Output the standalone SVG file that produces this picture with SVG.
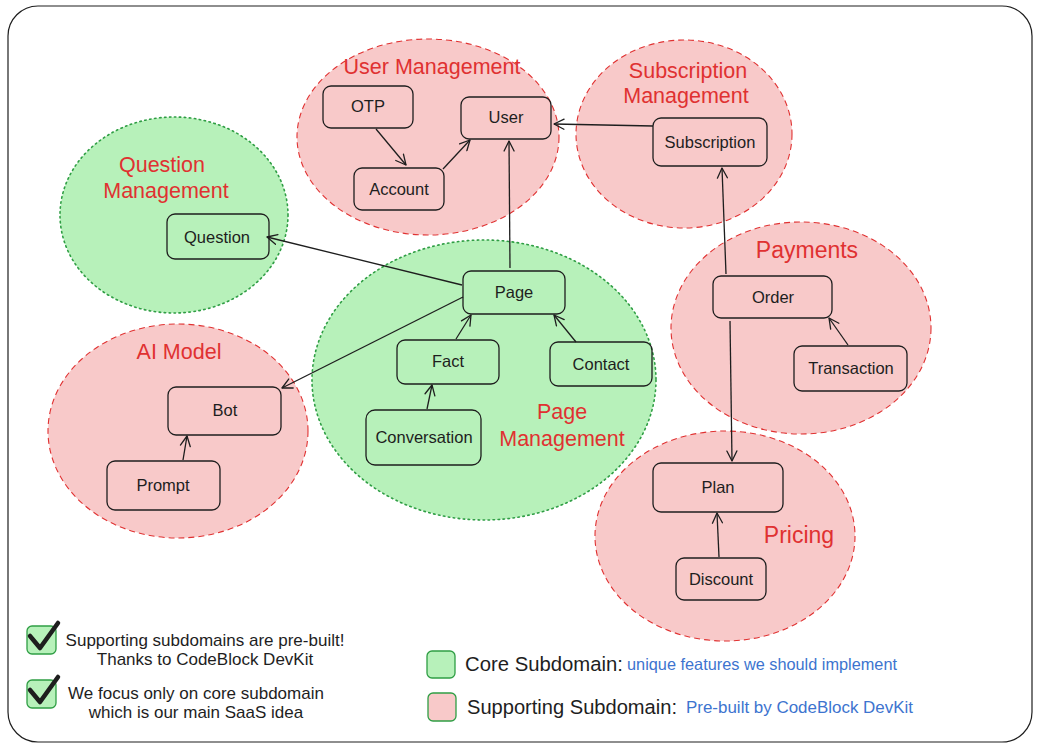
<svg xmlns="http://www.w3.org/2000/svg" width="1039" height="749" viewBox="0 0 1039 749">
<defs>
<marker id="arr" viewBox="0 0 12 12" refX="11" refY="6" markerWidth="12" markerHeight="12" markerUnits="userSpaceOnUse" orient="auto">
<path d="M1,1 L11,6 L1,11" fill="none" stroke="#1e1e1e" stroke-width="1.3" stroke-linecap="round" stroke-linejoin="round"/>
</marker>
</defs>
<style>
.frame{fill:#ffffff;stroke:#1e1e1e;stroke-width:1.2}
.sup{fill:#f8c9c9;stroke:#e03131;stroke-width:1.1;stroke-dasharray:6 4}
.core{fill:#b7f1ba;stroke:#2f9e44;stroke-width:1.6;stroke-dasharray:1.5 3.5;stroke-linecap:round}
.node rect{fill:none;stroke:#1e1e1e;stroke-width:1.3}
.node text{font-family:"Liberation Sans",Arial,sans-serif;font-size:16.5px;fill:#1e1e1e;text-anchor:middle;dominant-baseline:central}
.lbl{font-family:"Liberation Sans",Arial,sans-serif;font-size:21.5px;fill:#e03131;text-anchor:middle}
.conn line{stroke:#1e1e1e;stroke-width:1.3;marker-end:url(#arr)}
.leg{font-family:"Liberation Sans",Arial,sans-serif;font-size:17px;fill:#1e1e1e;text-anchor:middle}
.legb{font-family:"Liberation Sans",Arial,sans-serif;font-size:20.5px;fill:#1e1e1e}
.blue{font-family:"Liberation Sans",Arial,sans-serif;font-size:16.5px;fill:#3d74cf}
.box{stroke:#2f9e44;stroke-width:1.3}
.check{fill:none;stroke:#1e1e1e;stroke-width:4.5;stroke-linecap:round;stroke-linejoin:round}
</style>
<rect class="frame" x="8" y="6" width="1024" height="736" rx="30"/>

<g id="areas">
<ellipse id="area-user" class="sup" cx="428" cy="137" rx="131" ry="98"/>
<ellipse id="area-subscription" class="sup" cx="684" cy="134" rx="108" ry="94"/>
<ellipse id="area-question" class="core" cx="174" cy="215" rx="114" ry="98"/>
<ellipse id="area-ai" class="sup" cx="178" cy="431" rx="130" ry="107"/>
<ellipse id="area-page" class="core" cx="484" cy="380" rx="172" ry="140"/>
<ellipse id="area-payments" class="sup" cx="801" cy="328" rx="130" ry="106"/>
<ellipse id="area-pricing" class="sup" cx="725" cy="536" rx="130" ry="105"/>
</g>

<g id="area-labels">
<text class="lbl" x="432" y="74">User Management</text>
<text class="lbl" x="688" y="78">Subscription</text>
<text class="lbl" x="686" y="103">Management</text>
<text class="lbl" x="162" y="172">Question</text>
<text class="lbl" x="166" y="198">Management</text>
<text class="lbl" x="179" y="359">AI Model</text>
<text class="lbl" x="562" y="419">Page</text>
<text class="lbl" x="562" y="446">Management</text>
<text class="lbl" x="807" y="258" style="font-size:23px">Payments</text>
<text class="lbl" x="799" y="543" style="font-size:23px">Pricing</text>
</g>

<g id="connectors" class="conn">
<line x1="376" y1="129" x2="406" y2="165"/>
<line x1="443" y1="169" x2="470" y2="140"/>
<line x1="510" y1="268" x2="509" y2="141"/>
<line x1="653" y1="126" x2="554" y2="124"/>
<line x1="726" y1="274" x2="722" y2="168"/>
<line x1="730" y1="321" x2="732" y2="461"/>
<line x1="848" y1="345" x2="829" y2="318"/>
<line x1="719" y1="557" x2="717" y2="513"/>
<line x1="462" y1="285" x2="267" y2="237"/>
<line x1="463" y1="297" x2="282" y2="388"/>
<line x1="456" y1="339" x2="471" y2="315"/>
<line x1="576" y1="342" x2="554" y2="315"/>
<line x1="427" y1="409" x2="432" y2="385"/>
<line x1="183" y1="460" x2="187" y2="436"/>
</g>

<g id="node-otp" class="node"><rect x="323" y="86" width="90" height="42" rx="8"/><text x="368" y="106">OTP</text></g>
<g id="node-user" class="node"><rect x="461" y="97" width="90" height="42" rx="8"/><text x="506" y="117">User</text></g>
<g id="node-account" class="node"><rect x="354" y="168" width="90" height="42" rx="8"/><text x="399" y="189">Account</text></g>
<g id="node-subscription" class="node"><rect x="653" y="118" width="114" height="48" rx="8"/><text x="710" y="142">Subscription</text></g>
<g id="node-question" class="node"><rect x="167" y="214" width="102" height="45" rx="8"/><text x="217" y="237">Question</text></g>
<g id="node-page" class="node"><rect x="463" y="271" width="102" height="43" rx="8"/><text x="514" y="292">Page</text></g>
<g id="node-fact" class="node"><rect x="397" y="340" width="102" height="44" rx="8"/><text x="448" y="361">Fact</text></g>
<g id="node-contact" class="node"><rect x="550" y="342" width="102" height="44" rx="8"/><text x="601" y="364">Contact</text></g>
<g id="node-conversation" class="node"><rect x="366" y="410" width="115" height="55" rx="9"/><text x="424" y="437">Conversation</text></g>
<g id="node-bot" class="node"><rect x="168" y="387" width="113" height="48" rx="8"/><text x="225" y="410">Bot</text></g>
<g id="node-prompt" class="node"><rect x="107" y="461" width="113" height="49" rx="8"/><text x="163" y="485">Prompt</text></g>
<g id="node-order" class="node"><rect x="713" y="276" width="119" height="42" rx="8"/><text x="773" y="297">Order</text></g>
<g id="node-transaction" class="node"><rect x="794" y="346" width="113" height="45" rx="8"/><text x="851" y="368">Transaction</text></g>
<g id="node-plan" class="node"><rect x="653" y="463" width="130" height="49" rx="8"/><text x="718" y="487">Plan</text></g>
<g id="node-discount" class="node"><rect x="676" y="558" width="90" height="42" rx="8"/><text x="721" y="579">Discount</text></g>

<g id="notes">
<rect class="box" x="27" y="626" width="29" height="28" rx="5" fill="#b7f1ba"/>
<path class="check" d="M30,636 L40,648 L58,623"/>
<text class="leg" x="205" y="646">Supporting subdomains are pre-built!</text>
<text class="leg" x="205" y="665">Thanks to CodeBlock DevKit</text>
<rect class="box" x="27" y="680" width="29" height="28" rx="5" fill="#b7f1ba"/>
<path class="check" d="M30,690 L40,702 L58,677"/>
<text class="leg" x="196" y="699">We focus only on core subdomain</text>
<text class="leg" x="196" y="718">which is our main SaaS idea</text>
</g>

<g id="legend">
<rect class="box" x="427" y="651" width="28" height="27" rx="5" fill="#b7f1ba"/>
<text class="legb" x="465" y="671" textLength="158" lengthAdjust="spacingAndGlyphs">Core Subdomain:</text>
<text class="blue" x="627" y="670" textLength="270" lengthAdjust="spacingAndGlyphs">unique features we should implement</text>
<rect class="box" x="428" y="693" width="28" height="28" rx="5" fill="#f8c9c9"/>
<text class="legb" x="467" y="714" textLength="210" lengthAdjust="spacingAndGlyphs">Supporting Subdomain:</text>
<text class="blue" x="686" y="713" textLength="227" lengthAdjust="spacingAndGlyphs">Pre-built by CodeBlock DevKit</text>
</g>
</svg>
